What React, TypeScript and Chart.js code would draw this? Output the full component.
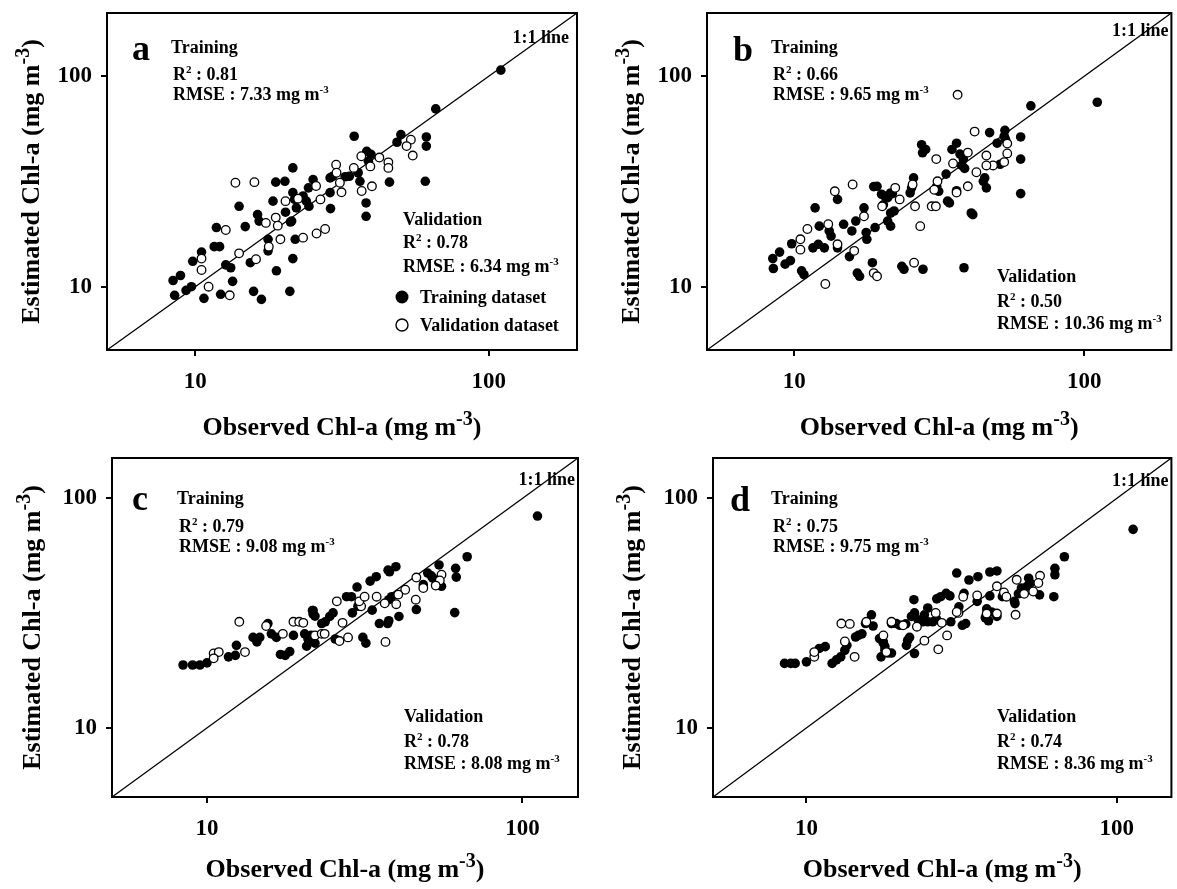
import React, { useEffect, useRef } from "react";
import { Chart, registerables } from "chart.js";

Chart.register(...registerables);

const FONT = "'Liberation Serif', 'Times New Roman', serif";

// ---------- data ----------
const tickValues = [10, 100];
const rangeAB = [5, 200];
const rangeCD = [5, 150];
const panelLetters = ["a", "b", "c", "d"];
const trainR2 = ["0.81", "0.66", "0.79", "0.75"];
const trainRMSE = ["7.33", "9.65", "9.08", "9.75"];
const validR2 = ["0.78", "0.50", "0.78", "0.74"];
const validRMSE = ["6.34", "10.36", "8.08", "8.36"];
const xTitle = "Observed Chl-a (mg m";
const yTitle = "Estimated Chl-a (mg m";
const unitExp = "-3";
const legendLabels = ["Training dataset", "Validation dataset"];
const lineLabel = "1:1 line";

const trainA = [
  [8.4, 10.7], [8.9, 11.3], [8.5, 9.1], [9.3, 9.6], [9.7, 10.0], [9.8, 13.2], [10.5, 14.6], [10.7, 8.8],
  [11.8, 19.1], [11.6, 15.5], [12.1, 15.5], [12.7, 12.7], [13.2, 12.3], [13.4, 10.6], [12.2, 9.2], [14.8, 19.3],
  [14.1, 24.1], [15.4, 13.0], [15.8, 9.5], [16.8, 8.7], [16.3, 22.0], [16.5, 20.5], [17.7, 16.8], [17.7, 14.8],
  [18.9, 11.9], [20.3, 22.6], [21.0, 9.5], [21.1, 20.3], [21.5, 13.6], [21.9, 16.8], [22.1, 23.7], [18.8, 31.4],
  [20.2, 31.7], [21.5, 36.7], [18.4, 25.5], [21.5, 28.0], [110, 107], [66, 70], [34.8, 51.9], [50.2, 52.8],
  [61.3, 51.5], [61.3, 46.6], [48.7, 48.6], [38.4, 44.0], [39.7, 42.6], [38.9, 39.5], [35.9, 34.8], [36.4, 31.7],
  [45.9, 31.4], [60.8, 31.7], [33.5, 33.5], [32.4, 33.3], [29.4, 33.5], [28.8, 32.9], [28.8, 28.0], [25.2, 32.3],
  [24.3, 29.5], [23.3, 27.0], [21.8, 26.0], [28.9, 23.5], [24.4, 24.1], [38.2, 25.0], [38.2, 21.6], [23.9, 25.5],
  [21.3, 20.5],
];
const validA = [
  [12.7, 18.6], [10.5, 13.6], [10.5, 12.0], [11.1, 10.0], [13.1, 9.1], [14.1, 14.4], [16.1, 13.5], [17.4, 20.1],
  [18.8, 21.3], [19.1, 19.5], [19.5, 16.8], [17.8, 15.5], [20.3, 25.5], [13.7, 31.2], [15.9, 31.4], [54.3, 50.0],
  [52.5, 46.6], [55.1, 42.0], [36.8, 41.7], [42.4, 41.1], [45.5, 39.0], [45.5, 36.7], [39.5, 37.3], [34.7, 36.7],
  [36.9, 28.5], [40.0, 30.0], [30.2, 38.0], [30.3, 34.8], [31.1, 31.2], [31.5, 28.1], [26.7, 26.0], [25.8, 30.1],
  [22.4, 26.2], [23.3, 17.1], [25.9, 17.9], [27.7, 18.8],
];

const trainB = [
  [11.8, 23.7], [14.1, 26.0], [18.8, 29.9], [21.5, 27.9], [17.4, 23.7], [8.43, 13.6], [8.47, 12.2], [8.9, 14.6],
  [9.3, 12.8], [9.7, 13.3], [9.8, 16.0], [10.6, 11.9], [10.8, 11.4], [11.6, 15.3], [12.1, 15.9], [12.7, 15.3],
  [12.2, 19.4], [13.2, 18.4], [13.4, 17.4], [14.1, 15.3], [14.8, 19.8], [15.5, 13.9], [15.8, 18.4], [16.3, 20.5],
  [16.5, 11.6], [16.8, 11.2], [17.7, 18.1], [17.8, 16.8], [18.6, 13.0], [19.0, 19.1], [20.3, 24.5], [21.0, 20.5],
  [21.5, 19.4], [22.1, 22.9], [23.5, 12.5], [23.9, 12.1], [27.8, 12.1], [38.5, 12.3], [41.3, 22.0], [34.3, 25.0],
  [111, 75.3], [65.5, 72.4], [53.3, 55.4], [60.4, 51.5], [47.2, 54.0], [53.0, 51.9], [53.6, 50.0], [50.1, 48.1],
  [36.3, 48.1], [27.5, 47.3], [28.4, 44.9], [27.7, 43.3], [35.0, 44.9], [37.3, 42.7], [38.3, 40.4], [37.8, 37.7],
  [38.7, 36.5], [51.3, 38.2], [45.4, 32.9], [44.9, 31.7], [46.0, 29.5], [60.4, 40.4], [60.4, 27.7], [40.8, 22.4],
  [36.3, 28.6], [33.8, 25.5], [33.4, 34.3], [31.0, 30.0], [31.5, 28.4], [25.8, 32.9], [25.1, 27.9], [25.4, 29.5],
  [21.8, 27.7], [21.0, 26.5], [20.5, 27.0], [20.0, 27.5], [21.5, 22.4], [19.3, 30.0],
];
const validB = [
  [13.8, 28.4], [15.9, 30.6], [20.1, 24.1], [10.5, 16.8], [10.5, 15.0], [11.1, 18.8], [13.1, 19.8], [14.1, 15.9],
  [12.8, 10.3], [16.1, 14.8], [17.4, 21.6], [18.8, 11.6], [19.3, 11.2], [25.9, 13.0], [29.8, 24.1], [27.2, 19.4],
  [36.6, 81.7], [41.9, 54.6], [54.3, 47.9], [39.7, 43.4], [30.9, 40.4], [35.3, 38.5], [46.0, 42.0], [48.5, 37.7],
  [46.0, 37.7], [53.0, 39.1], [54.3, 43.0], [42.5, 35.0], [39.7, 30.0], [36.3, 28.0], [31.2, 31.7], [30.4, 28.9],
  [30.8, 24.1], [25.6, 30.6], [26.1, 24.1], [22.3, 29.5], [23.1, 26.0],
];

const trainC = [
  [8.4, 18.8], [9.0, 18.8], [9.5, 18.8], [10.0, 19.2], [11.7, 20.4], [12.3, 20.7], [12.4, 22.9], [14.0, 24.8],
  [14.4, 23.7], [14.7, 24.8], [15.6, 28.5], [16.0, 25.7], [16.6, 24.8], [18.8, 25.3], [18.3, 21.5], [17.7, 20.7],
  [17.1, 20.9], [20.4, 25.7], [21.6, 32.5], [22.0, 30.7], [20.9, 24.5], [23.1, 28.5], [111.6, 83.8], [66.8, 55.7],
  [61.4, 49.6], [61.7, 45.4], [61.0, 31.8], [54.4, 51.3], [50.1, 47.3], [51.4, 46.0], [52.0, 44.9], [55.4, 41.4],
  [48.5, 42.1], [39.7, 50.4], [37.9, 47.9], [37.5, 48.7], [34.4, 45.6], [32.9, 43.6], [29.9, 41.1], [46.1, 32.8],
  [40.6, 30.6], [38.5, 37.3], [37.7, 36.2], [33.4, 32.6], [35.2, 28.5], [37.4, 28.5], [37.7, 29.3], [31.2, 24.8],
  [31.9, 23.4], [25.5, 24.4], [28.9, 31.7], [30.1, 33.9], [27.7, 37.3], [28.7, 37.3], [25.1, 31.7], [24.5, 30.6],
  [23.7, 29.0], [21.7, 32.5], [21.7, 31.3], [21.4, 25.3], [21.7, 24.5], [21.0, 24.1], [20.7, 22.7], [22.0, 23.4],
];
const validC = [
  [12.66, 29.0], [10.5, 21.1], [10.9, 21.4], [10.5, 20.1], [13.2, 21.4], [15.4, 27.8], [17.4, 25.7], [18.8, 29.0],
  [19.6, 29.0], [22.0, 25.3], [23.1, 25.7], [55.4, 46.5], [54.7, 43.9], [53.1, 41.7], [46.1, 45.2], [48.5, 40.7],
  [45.9, 36.2], [42.5, 40.0], [40.4, 38.1], [39.8, 34.6], [34.5, 37.3], [36.6, 34.9], [36.8, 23.7], [28.0, 24.8],
  [26.3, 23.9], [26.9, 28.7], [30.8, 33.9], [30.4, 35.6], [31.6, 37.3], [25.8, 35.6], [23.6, 25.7], [20.2, 28.7],
];

const trainD = [
  [8.5, 19.1], [8.9, 19.1], [9.2, 19.1], [10.0, 19.4], [11.0, 22.2], [11.5, 22.6], [12.1, 19.1], [12.5, 19.8],
  [12.9, 20.4], [13.3, 21.8], [13.5, 22.9], [14.4, 24.9], [14.7, 25.3], [15.1, 25.7], [15.5, 28.5], [16.2, 31.1],
  [16.4, 27.8], [17.2, 24.5], [17.7, 23.7], [17.9, 22.6], [18.3, 21.2], [18.8, 28.5], [112.9, 73.3], [67.8, 55.7],
  [63.2, 49.6], [63.2, 46.5], [62.7, 37.3], [52.0, 44.9], [52.6, 42.8], [51.4, 41.4], [56.4, 38.0], [49.3, 40.7],
  [48.2, 38.4], [46.8, 35.6], [47.0, 34.8], [42.8, 37.3], [39.0, 37.6], [41.1, 30.6], [39.5, 32.0], [38.1, 33.0],
  [37.7, 30.2], [38.6, 29.3], [35.5, 35.6], [30.5, 47.3], [33.4, 44.1], [35.7, 45.6], [39.0, 47.8], [41.1, 48.3],
  [32.2, 38.6], [29.0, 37.6], [28.2, 38.6], [27.1, 37.3], [31.0, 33.7], [32.6, 28.5], [31.8, 28.0], [29.2, 29.0],
  [26.3, 36.5], [26.3, 29.6], [25.5, 29.0], [24.6, 29.0], [23.7, 29.0], [22.9, 29.6], [24.6, 33.3], [24.0, 31.1],
  [22.2, 36.2], [22.3, 31.7], [21.8, 30.6], [21.5, 24.8], [21.2, 24.1], [21.0, 22.9], [22.3, 21.1], [19.5, 28.5],
  [20.0, 28.0], [20.9, 28.4], [17.7, 23.4], [17.9, 21.8], [17.4, 20.4], [18.8, 21.2],
];
const validD = [
  [12.96, 28.5], [13.8, 28.4], [10.6, 20.4], [10.6, 21.4], [13.3, 23.8], [15.6, 29.0], [17.7, 25.3], [56.6, 46.0],
  [55.9, 42.8], [53.8, 39.3], [50.3, 38.4], [47.6, 44.2], [47.2, 31.1], [43.3, 38.9], [44.1, 37.3], [41.1, 41.4],
  [38.1, 31.5], [41.1, 31.5], [35.5, 37.8], [32.0, 37.3], [30.9, 31.7], [30.5, 32.0], [28.4, 25.3], [26.6, 22.0],
  [26.1, 31.7], [27.3, 28.7], [22.7, 27.6], [24.0, 24.0], [18.8, 29.0], [20.5, 28.0], [18.1, 21.4], [14.3, 20.4],
];

// ---------- layout (positions only) ----------
type P2 = [number, number];
interface PanelCfg {
  idx: number;
  train: number[][];
  valid: number[][];
  range: number[];
  left: number; top: number; w: number; h: number;
  yw: number; xh: number; pt: number; pr: number;
  letter: P2; trainPos: P2; trainGap: P2; validPos: P2; validGap: P2;
  lineLbl: P2; legend: boolean; yTitleX: number; xTitleDy: number;
}

const panels: PanelCfg[] = [
  {
    idx: 0, train: trainA, valid: validA, range: rangeAB,
    left: 0, top: 0, w: 590, h: 445, yw: 107, xh: 95, pt: 13, pr: 13,
    letter: [25, 47], trainPos: [64, 40], trainGap: [27, 20], validPos: [296, 212], validGap: [23, 24],
    lineLbl: [8, 30], legend: true, yTitleX: 39, xTitleDy: 85,
  },
  {
    idx: 1, train: trainB, valid: validB, range: rangeAB,
    left: 600, top: 0, w: 577, h: 445, yw: 107, xh: 95, pt: 13, pr: 1,
    letter: [26, 48], trainPos: [64, 40], trainGap: [27, 20], validPos: [290, 269], validGap: [25, 22],
    lineLbl: [3, 23], legend: false, yTitleX: 39, xTitleDy: 85,
  },
  {
    idx: 2, train: trainC, valid: validC, range: rangeCD,
    left: 0, top: 445, w: 590, h: 444, yw: 112, xh: 92, pt: 13, pr: 12,
    letter: [20, 52], trainPos: [65, 46], trainGap: [28, 20], validPos: [292, 264], validGap: [25, 22],
    lineLbl: [3, 27], legend: false, yTitleX: 40, xTitleDy: 80,
  },
  {
    idx: 3, train: trainD, valid: validD, range: rangeCD,
    left: 600, top: 445, w: 577, h: 444, yw: 113, xh: 92, pt: 13, pr: 1,
    letter: [17, 53], trainPos: [58, 46], trainGap: [28, 20], validPos: [284, 264], validGap: [25, 22],
    lineLbl: [3, 28], legend: false, yTitleX: 40, xTitleDy: 80,
  },
];

type Seg = { t: string; size: number; rise?: number };

function drawSegs(ctx: CanvasRenderingContext2D, segs: Seg[], x: number, y: number, align: string) {
  let total = 0;
  const widths = segs.map((s) => {
    ctx.font = `bold ${s.size}px ${FONT}`;
    const w = ctx.measureText(s.t).width;
    total += w;
    return w;
  });
  let cx = align === "left" ? x : align === "center" ? x - total / 2 : x - total;
  ctx.textAlign = "left";
  ctx.textBaseline = "alphabetic";
  segs.forEach((s, i) => {
    ctx.font = `bold ${s.size}px ${FONT}`;
    ctx.fillText(s.t, cx, y - (s.rise || 0));
    cx += widths[i];
  });
}

const r2Segs = (v: string): Seg[] => [
  { t: "R", size: 18 },
  { t: "2", size: 11, rise: 7 },
  { t: " : " + v, size: 18 },
];
const rmseSegs = (v: string): Seg[] => [
  { t: "RMSE : " + v + " mg m", size: 18 },
  { t: unitExp, size: 11, rise: 7 },
];
const titleSegs = (t: string): Seg[] => [
  { t, size: 26 },
  { t: unitExp, size: 20, rise: 10 },
  { t: ")", size: 26 },
];

function makeDecor(cfg: PanelCfg) {
  return {
    id: "decor" + cfg.idx,
    afterDraw(chart: any) {
      const ctx: CanvasRenderingContext2D = chart.ctx;
      const a = chart.chartArea;
      ctx.save();
      ctx.strokeStyle = "#000";
      ctx.lineWidth = 2;
      ctx.strokeRect(a.left, a.top, a.right - a.left, a.bottom - a.top);
      ctx.fillStyle = "#000";

      // axis titles
      const cxm = (a.left + a.right) / 2;
      const cym = (a.top + a.bottom) / 2;
      drawSegs(ctx, titleSegs(xTitle), cxm, a.bottom + cfg.xTitleDy, "center");
      ctx.save();
      ctx.translate(cfg.yTitleX, cym);
      ctx.rotate(-Math.PI / 2);
      drawSegs(ctx, titleSegs(yTitle), 0, 0, "center");
      ctx.restore();

      // panel letter
      drawSegs(ctx, [{ t: panelLetters[cfg.idx], size: 36 }], a.left + cfg.letter[0], a.top + cfg.letter[1], "left");

      // training stats
      const tx = a.left + cfg.trainPos[0];
      let ty = a.top + cfg.trainPos[1];
      drawSegs(ctx, [{ t: "Training", size: 18 }], tx, ty, "left");
      ty += cfg.trainGap[0];
      drawSegs(ctx, r2Segs(trainR2[cfg.idx]), tx + 2, ty, "left");
      ty += cfg.trainGap[1];
      drawSegs(ctx, rmseSegs(trainRMSE[cfg.idx]), tx + 2, ty, "left");

      // validation stats
      const vx = a.left + cfg.validPos[0];
      let vy = a.top + cfg.validPos[1];
      drawSegs(ctx, [{ t: "Validation", size: 18 }], vx, vy, "left");
      vy += cfg.validGap[0];
      drawSegs(ctx, r2Segs(validR2[cfg.idx]), vx, vy, "left");
      vy += cfg.validGap[1];
      drawSegs(ctx, rmseSegs(validRMSE[cfg.idx]), vx, vy, "left");

      // 1:1 line label
      drawSegs(ctx, [{ t: lineLabel, size: 18 }], a.right - cfg.lineLbl[0], a.top + cfg.lineLbl[1], "right");

      // legend
      if (cfg.legend) {
        const lx = vx - 1;
        const ly1 = vy + 25;
        const ly2 = ly1 + 28;
        ctx.beginPath();
        ctx.arc(lx, ly1, 6.5, 0, Math.PI * 2);
        ctx.fill();
        ctx.beginPath();
        ctx.arc(lx, ly2, 6, 0, Math.PI * 2);
        ctx.lineWidth = 1.4;
        ctx.stroke();
        drawSegs(ctx, [{ t: legendLabels[0], size: 18 }], lx + 18, ly1 + 6, "left");
        drawSegs(ctx, [{ t: legendLabels[1], size: 18 }], lx + 18, ly2 + 6, "left");
      }
      ctx.restore();
    },
  };
}

function scaleOpts(range: number[], isX: boolean, size: number) {
  return {
    type: "logarithmic",
    min: range[0],
    max: range[1],
    afterBuildTicks: (s: any) => {
      s.ticks = tickValues.map((v) => ({ value: v }));
    },
    afterFit: (s: any) => {
      if (isX) {
        s.height = size;
        s.paddingLeft = 0;
        s.paddingRight = 0;
      } else {
        s.width = size;
        s.paddingTop = 0;
        s.paddingBottom = 0;
      }
    },
    ticks: {
      color: "#000",
      font: { family: FONT, size: 23, weight: "bold" },
      padding: isX ? 12 : 9,
      autoSkip: false,
      maxRotation: 0,
      callback: (v: any) => String(v),
    },
    grid: { drawOnChartArea: false, drawTicks: true, tickLength: 6, color: "#000", lineWidth: 2 },
    border: { display: true, color: "#000", width: 2 },
    title: { display: false },
  };
}

function Panel({ cfg }: { cfg: PanelCfg }) {
  const ref = useRef<HTMLCanvasElement>(null);
  useEffect(() => {
    const lo = cfg.range[0];
    const hi = cfg.range[1];
    const chart = new Chart(ref.current as HTMLCanvasElement, {
      type: "scatter",
      data: {
        datasets: [
          {
            type: "line",
            data: [{ x: lo, y: lo }, { x: hi, y: hi }],
            borderColor: "#000",
            borderWidth: 1.3,
            pointRadius: 0,
            order: 3,
          } as any,
          {
            data: cfg.train.map(([x, y]) => ({ x, y })),
            pointRadius: 4.8,
            pointBackgroundColor: "#000",
            pointBorderColor: "#000",
            pointBorderWidth: 0,
            order: 2,
          },
          {
            data: cfg.valid.map(([x, y]) => ({ x, y })),
            pointRadius: 4.3,
            pointBackgroundColor: "#fff",
            pointBorderColor: "#000",
            pointBorderWidth: 1.3,
            order: 1,
          },
        ],
      },
      options: {
        responsive: false,
        animation: false,
        events: [],
        layout: { padding: { top: cfg.pt, right: cfg.pr, left: 0, bottom: 0 } },
        plugins: { legend: { display: false }, tooltip: { enabled: false } },
        scales: {
          x: scaleOpts(cfg.range, true, cfg.xh) as any,
          y: scaleOpts(cfg.range, false, cfg.yw) as any,
        },
      },
      plugins: [makeDecor(cfg)],
    });
    return () => chart.destroy();
  }, []);
  return (
    <canvas
      ref={ref}
      width={cfg.w}
      height={cfg.h}
      style={{ position: "absolute", left: cfg.left, top: cfg.top, width: cfg.w, height: cfg.h }}
    />
  );
}

export default function App() {
  return (
    <div
      style={{
        position: "absolute",
        left: 0,
        top: 0,
        width: 1177,
        height: 889,
        overflow: "hidden",
        background: "#fff",
      }}
    >
      {panels.map((p) => (
        <Panel key={p.idx} cfg={p} />
      ))}
    </div>
  );
}
